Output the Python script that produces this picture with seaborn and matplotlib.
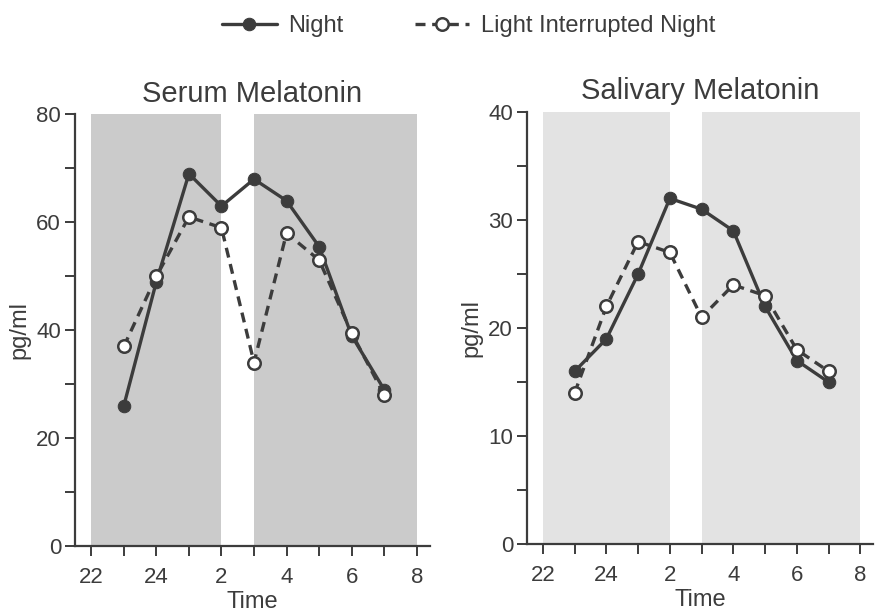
import numpy as np
import pandas as pd
import matplotlib
matplotlib.use("Agg")
import matplotlib.pyplot as plt
import seaborn as sns
from matplotlib.ticker import MultipleLocator, FixedLocator

# clock hours, 24 = midnight, 26 = 2 am ...
hours = [23, 24, 25, 26, 27, 28, 29, 30, 31]
tick_hours = [22, 24, 26, 28, 30, 32]
tick_labels = ["22", "24", "2", "4", "6", "8"]

serum_night = [26, 49, 69, 63, 68, 64, 55.5, 39, 29]
serum_light = [37, 50, 61, 59, 34, 58, 53, 39.5, 28]
saliva_night = [16, 19, 25, 32, 31, 29, 22, 17, 15]
saliva_light = [14, 22, 28, 27, 21, 24, 23, 18, 16]

# dark periods (shaded): lights off 22-2 and 3-8
dark_periods = [(22, 26), (27, 32)]

sns.set_style("ticks")
plt.rcParams["font.family"] = ["Liberation Sans", "DejaVu Sans"]

ink = "#3c3c3c"
fig = plt.figure(figsize=(8.76, 6.15), dpi=100)
ax1 = fig.add_axes([0.0856, 0.112, 0.405, 0.702])
ax2 = fig.add_axes([0.6016, 0.115, 0.395, 0.703])

panels = [
    (ax1, serum_night, serum_light, "Serum Melatonin", 80, 20, "#cbcbcb"),
    (ax2, saliva_night, saliva_light, "Salivary Melatonin", 40, 10, "#e3e3e3"),
]

for ax, night, light, title, ymax, ystep, shade in panels:
    for x0, x1 in dark_periods:
        ax.axvspan(x0, x1, color=shade, lw=0, zorder=0)
    sns.lineplot(x=hours, y=night, ax=ax, color=ink, lw=2.4, marker="o",
                 ms=9, mfc=ink, mec=ink, label="Night", zorder=3)
    sns.lineplot(x=hours, y=light, ax=ax, color=ink, lw=2.4, linestyle=(0, (3, 2)),
                 marker="o", ms=9, mfc="white", mec=ink, mew=1.8,
                 label="Light Interrupted Night", zorder=4)
    ax.set_xlim(21.5, 32.4)
    ax.set_ylim(0, ymax)
    ax.xaxis.set_major_locator(FixedLocator(tick_hours))
    ax.set_xticklabels(tick_labels)
    ax.xaxis.set_minor_locator(MultipleLocator(1))
    ax.yaxis.set_major_locator(MultipleLocator(ystep))
    ax.yaxis.set_minor_locator(MultipleLocator(ystep / 2))
    ax.tick_params(which="both", direction="out", length=7, width=1.4, colors=ink,
                   labelsize=16, pad=3)
    ax.tick_params(axis="x", pad=8)
    for sp in ["top", "right"]:
        ax.spines[sp].set_visible(False)
    for sp in ["left", "bottom"]:
        ax.spines[sp].set_color(ink)
        ax.spines[sp].set_linewidth(1.6)
    ax.set_title(title, fontsize=21, color=ink, pad=9)
    ax.set_xlabel("Time", fontsize=17, color=ink, labelpad=2)
    ax.set_ylabel("pg/ml", fontsize=17, color=ink, labelpad=4)
    ax.grid(False)

handles, labels = ax1.get_legend_handles_labels()
ax1.get_legend().remove()
ax2.get_legend().remove()
fig.legend(handles, labels, loc="upper center", bbox_to_anchor=(0.535, 1.01), ncol=2,
           frameon=False, fontsize=17, handlelength=2.3, handletextpad=0.5,
           columnspacing=3.0, labelcolor=ink)

fig.savefig("out.png", dpi=100)
